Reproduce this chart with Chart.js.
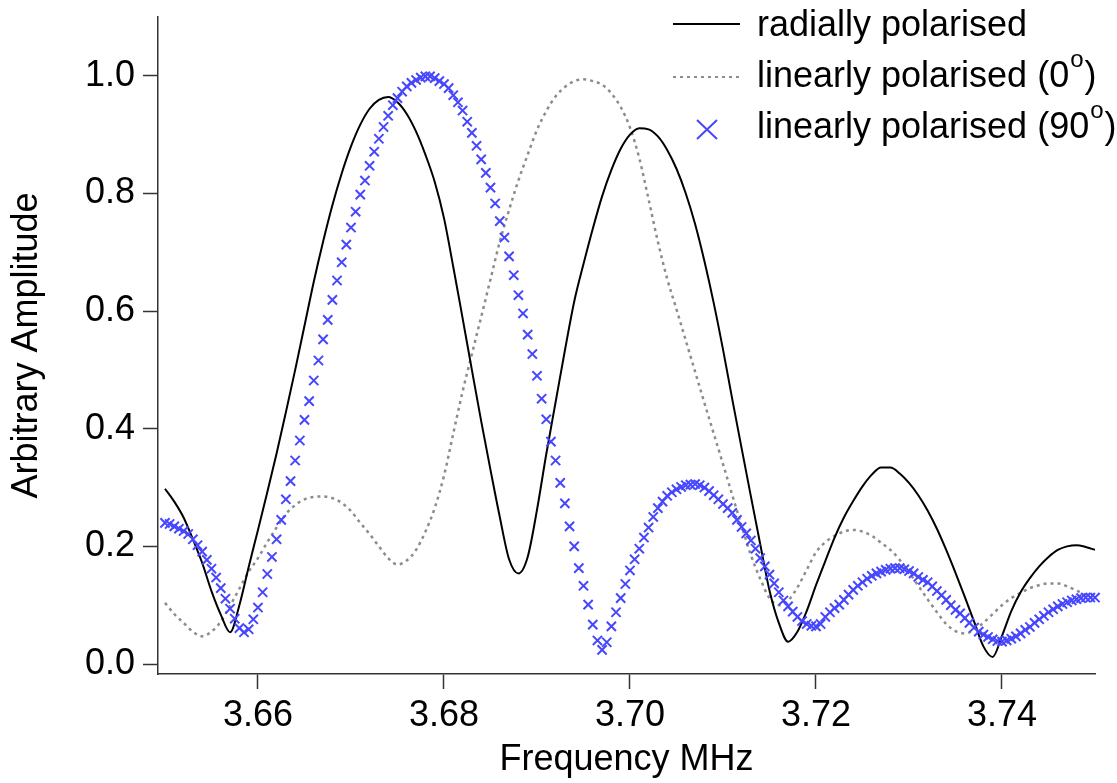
<!DOCTYPE html>
<html>
<head>
<meta charset="utf-8">
<title>Arbitrary Amplitude vs Frequency</title>
<script src="https://cdn.jsdelivr.net/npm/chart.js@4.4.0/dist/chart.umd.min.js"></script>
<style>
  html, body { margin: 0; padding: 0; background: #fff; }
  #wrap { width: 1117px; height: 783px; }
</style>
</head>
<body>
<div id="wrap"><canvas id="ampChart" width="1117" height="783"></canvas></div>
<script>
// sampling of the two curves and of the marker series (MHz)
const lineStart = 3.65;
const lineStep = 0.001;
const markStart = 3.65;
const markStep = 0.0005;

const xTicks = [3.66, 3.68, 3.70, 3.72, 3.74];
const yTicks = [0.0, 0.2, 0.4, 0.6, 0.8, 1.0];

// radially polarised, 3.650 .. 3.750 every 0.001
const radial = [
    0.298, 0.276, 0.249, 0.212, 0.172, 0.124, 0.084, 0.054, 0.100, 0.165,
    0.228, 0.292, 0.358, 0.428, 0.500, 0.575, 0.650, 0.718, 0.780, 0.834,
    0.880, 0.917, 0.944, 0.959, 0.964, 0.955, 0.935, 0.905, 0.866, 0.820,
    0.758, 0.675, 0.588, 0.500, 0.413, 0.330, 0.250, 0.178, 0.154, 0.182,
    0.262, 0.357, 0.445, 0.533, 0.616, 0.680, 0.740, 0.795, 0.840, 0.876,
    0.900, 0.911, 0.909, 0.897, 0.874, 0.842, 0.800, 0.748, 0.685, 0.614,
    0.535, 0.450, 0.367, 0.285, 0.204, 0.125, 0.070, 0.038, 0.055, 0.090,
    0.134, 0.175, 0.215, 0.249, 0.277, 0.302, 0.322, 0.334, 0.334, 0.324,
    0.308, 0.287, 0.261, 0.230, 0.194, 0.155, 0.114, 0.072, 0.030, 0.012,
    0.048, 0.090, 0.122, 0.146, 0.166, 0.182, 0.194, 0.200, 0.202, 0.199,
    0.194
];

// linearly polarised (0 deg), 3.650 .. 3.750 every 0.001
const linear0 = [
    0.104, 0.085, 0.070, 0.055, 0.047, 0.055, 0.072, 0.099, 0.128, 0.157,
    0.180, 0.207, 0.232, 0.255, 0.270, 0.280, 0.284, 0.285, 0.282, 0.274,
    0.260, 0.240, 0.221, 0.200, 0.180, 0.169, 0.176, 0.194, 0.225, 0.265,
    0.320, 0.392, 0.463, 0.527, 0.590, 0.654, 0.718, 0.772, 0.822, 0.866,
    0.908, 0.940, 0.965, 0.981, 0.991, 0.994, 0.991, 0.985, 0.970, 0.947,
    0.912, 0.860, 0.790, 0.718, 0.655, 0.603, 0.550, 0.497, 0.444, 0.392,
    0.340, 0.287, 0.235, 0.185, 0.145, 0.112, 0.100, 0.108, 0.130, 0.160,
    0.190, 0.207, 0.218, 0.225, 0.228, 0.225, 0.218, 0.206, 0.194, 0.177,
    0.156, 0.133, 0.110, 0.088, 0.068, 0.056, 0.052, 0.058, 0.070, 0.085,
    0.100, 0.112, 0.121, 0.129, 0.134, 0.137, 0.137, 0.132, 0.125, 0.117,
    0.110
];

// linearly polarised (90 deg), 3.650 .. 3.750 every 0.0005
const linear90 = [
    0.240, 0.238, 0.234, 0.230, 0.226, 0.221, 0.212, 0.202, 0.191, 0.177,
    0.162, 0.147, 0.129, 0.111, 0.094, 0.077, 0.061, 0.054, 0.059, 0.076,
    0.096, 0.122, 0.153, 0.182, 0.212, 0.245, 0.280, 0.311, 0.346, 0.380,
    0.415, 0.447, 0.482, 0.516, 0.552, 0.585, 0.619, 0.652, 0.683, 0.713,
    0.742, 0.769, 0.798, 0.822, 0.847, 0.871, 0.893, 0.913, 0.932, 0.950,
    0.962, 0.973, 0.982, 0.988, 0.993, 0.997, 0.999, 0.999, 0.996, 0.991,
    0.986, 0.979, 0.967, 0.955, 0.941, 0.922, 0.903, 0.881, 0.858, 0.835,
    0.810, 0.783, 0.753, 0.725, 0.693, 0.661, 0.627, 0.596, 0.560, 0.527,
    0.490, 0.451, 0.416, 0.378, 0.346, 0.308, 0.273, 0.234, 0.200, 0.163,
    0.133, 0.101, 0.067, 0.040, 0.024, 0.037, 0.064, 0.088, 0.112, 0.136,
    0.159, 0.178, 0.196, 0.215, 0.232, 0.250, 0.265, 0.276, 0.286, 0.292,
    0.297, 0.301, 0.304, 0.305, 0.306, 0.304, 0.300, 0.294, 0.287, 0.280,
    0.272, 0.265, 0.257, 0.245, 0.233, 0.222, 0.210, 0.196, 0.180, 0.166,
    0.152, 0.137, 0.122, 0.108, 0.098, 0.089, 0.080, 0.073, 0.068, 0.065,
    0.064, 0.068, 0.080, 0.088, 0.095, 0.101, 0.109, 0.118, 0.126, 0.133,
    0.139, 0.145, 0.150, 0.154, 0.157, 0.160, 0.162, 0.163, 0.163, 0.161,
    0.158, 0.154, 0.148, 0.143, 0.139, 0.132, 0.124, 0.117, 0.109, 0.100,
    0.092, 0.086, 0.078, 0.070, 0.062, 0.055, 0.050, 0.046, 0.042, 0.039,
    0.038, 0.040, 0.043, 0.047, 0.052, 0.058, 0.063, 0.070, 0.076, 0.082,
    0.088, 0.093, 0.098, 0.102, 0.105, 0.108, 0.110, 0.112, 0.113, 0.113,
    0.113
];

// legend text, the "o" is drawn as a superscript
const legendLabels = [
    { text: 'radially polarised', sup: '', tail: '' },
    { text: 'linearly polarised (0', sup: 'o', tail: ')' },
    { text: 'linearly polarised (90', sup: 'o', tail: ')' }
];

const FONT = '"Liberation Sans", Arial, Helvetica, sans-serif';
const BLUE = '#4646ff';
const GREY = '#8c8c8c';

function toPoints(values, start, step) {
    return values.map((v, i) => ({ x: +(start + i * step).toFixed(4), y: v }));
}

// hand drawn legend, top right, like the original plot
const sketchLegend = {
    id: 'sketchLegend',
    afterDraw(chart) {
        const ctx = chart.ctx;
        const tx = 757;
        const baselines = [36, 87, 138];
        ctx.save();

        ctx.strokeStyle = '#000';
        ctx.lineWidth = 2;
        ctx.beginPath();
        ctx.moveTo(673, 24);
        ctx.lineTo(740, 24);
        ctx.stroke();

        ctx.strokeStyle = GREY;
        ctx.lineWidth = 2;
        ctx.setLineDash([3, 4]);
        ctx.beginPath();
        ctx.moveTo(673, 77);
        ctx.lineTo(740, 77);
        ctx.stroke();
        ctx.setLineDash([]);

        ctx.strokeStyle = BLUE;
        ctx.lineWidth = 2;
        ctx.beginPath();
        ctx.moveTo(697, 120);
        ctx.lineTo(717, 139);
        ctx.moveTo(717, 120);
        ctx.lineTo(697, 139);
        ctx.stroke();

        ctx.fillStyle = '#000';
        ctx.textBaseline = 'alphabetic';
        ctx.textAlign = 'left';
        legendLabels.forEach((lab, i) => {
            const y = baselines[i];
            ctx.font = '36px ' + FONT;
            ctx.fillText(lab.text, tx, y);
            let x = tx + ctx.measureText(lab.text).width;
            if (lab.sup) {
                ctx.font = '24px ' + FONT;
                ctx.fillText(lab.sup, x + 1, y - 20);
                x += ctx.measureText(lab.sup).width + 2;
            }
            if (lab.tail) {
                ctx.font = '36px ' + FONT;
                ctx.fillText(lab.tail, x, y);
            }
        });
        ctx.restore();
    }
};

const ctx = document.getElementById('ampChart').getContext('2d');
const chart = new Chart(ctx, {
    type: 'line',
    data: {
        datasets: [
            {
                label: 'linearly polarised (90o)',
                data: toPoints(linear90, markStart, markStep),
                showLine: false,
                pointStyle: 'crossRot',
                pointRadius: 6.5,
                pointBorderWidth: 2,
                pointBorderColor: BLUE,
                borderColor: BLUE,
                backgroundColor: BLUE,
                clip: false,
                order: 0
            },
            {
                label: 'radially polarised',
                data: toPoints(radial, lineStart, lineStep),
                borderColor: '#000',
                borderWidth: 2,
                pointRadius: 0,
                cubicInterpolationMode: 'monotone',
                fill: false,
                order: 1
            },
            {
                label: 'linearly polarised (0o)',
                data: toPoints(linear0, lineStart, lineStep),
                borderColor: GREY,
                borderWidth: 2.5,
                borderDash: [3, 4],
                pointRadius: 0,
                cubicInterpolationMode: 'monotone',
                fill: false,
                order: 2
            }
        ]
    },
    options: {
        responsive: false,
        animation: false,
        events: [],
        layout: { padding: { top: 17, right: 22, bottom: 0, left: 0 } },
        plugins: {
            legend: { display: false },
            tooltip: { enabled: false }
        },
        scales: {
            x: {
                type: 'linear',
                min: 3.64925,
                max: 3.75,
                bounds: 'data',
                afterBuildTicks: (scale) => { scale.ticks = xTicks.map(v => ({ value: v })); },
                afterFit: (scale) => { scale.height = 109; scale.paddingLeft = 0; scale.paddingRight = 0; },
                border: { display: true, color: '#333', width: 1.5 },
                grid: { display: true, drawOnChartArea: false, drawTicks: true, tickLength: 15, tickColor: '#333', tickWidth: 1.5 },
                ticks: {
                    color: '#000',
                    font: { family: FONT, size: 36 },
                    padding: 5,
                    maxRotation: 0,
                    autoSkip: false,
                    callback: (v) => Number(v).toFixed(2)
                },
                title: {
                    display: true,
                    text: 'Frequency MHz',
                    color: '#000',
                    font: { family: FONT, size: 36 },
                    padding: { top: 0, bottom: 1 }
                }
            },
            y: {
                type: 'linear',
                min: -0.017,
                max: 1.1,
                bounds: 'data',
                afterBuildTicks: (scale) => { scale.ticks = yTicks.map(v => ({ value: v })); },
                afterFit: (scale) => { scale.width = 158; scale.paddingTop = 0; scale.paddingBottom = 0; },
                border: { display: true, color: '#333', width: 1.5 },
                grid: { display: true, drawOnChartArea: false, drawTicks: true, tickLength: 15, tickColor: '#333', tickWidth: 1.5 },
                ticks: {
                    color: '#000',
                    font: { family: FONT, size: 36 },
                    padding: 8,
                    callback: (v) => Number(v).toFixed(1)
                },
                title: {
                    display: true,
                    text: 'Arbitrary Amplitude',
                    color: '#000',
                    font: { family: FONT, size: 36 },
                    padding: { top: 5, bottom: 0 }
                }
            }
        }
    },
    plugins: [sketchLegend]
});
</script>
</body>
</html>
